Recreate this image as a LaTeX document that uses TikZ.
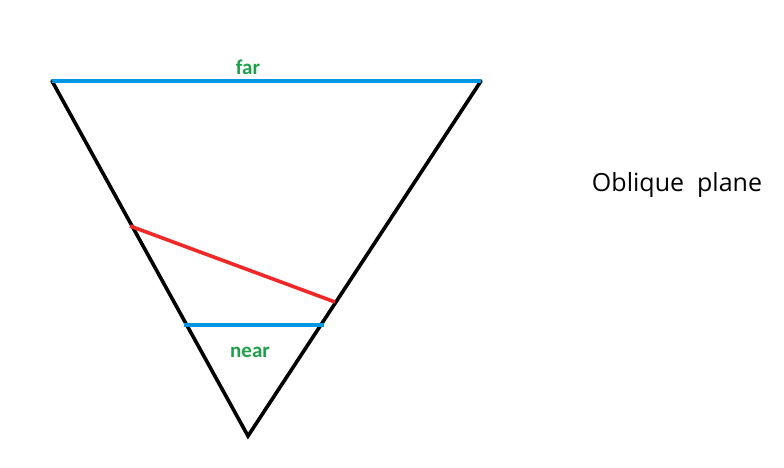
\documentclass[tikz,border=0pt]{standalone}
\usepackage{fontspec}
\setmainfont{Carlito}
\newfontfamily\labelfont{Open Sans}
\usetikzlibrary{positioning}
\definecolor{PlaneBlue}{RGB}{0,150,225}
\definecolor{LabelGreen}{RGB}{30,160,75}
\definecolor{CutRed}{RGB}{240,40,40}
\tikzset{
  edge/.style   = {black, line width=3.6pt, line cap=round},
  plane/.style  = {PlaneBlue, line width=4pt},
  cut/.style    = {CutRed, line width=3.6pt},
  tag/.style    = {font=\fontsize{21}{24}\selectfont\bfseries, text=LabelGreen, inner sep=0pt}
}

\begin{document}
\begin{tikzpicture}[x=1pt, y=-1pt]
\useasboundingbox (0,0) rectangle (784,468);

% frustum corners
\coordinate (tl) at (52,81);
\coordinate (tr) at (481,81);
\coordinate (apex) at (248,436);
\coordinate (nl) at (184,325);
\coordinate (nr) at (324,325);
\coordinate (ol) at (130,226);
\coordinate (or) at (335,302);

% sides
\draw[edge] (tl) -- (apex) -- (tr);

% far and near planes
\draw[plane] (tl) -- (tr);
\draw[plane] (nl) -- (nr);

% oblique cut
\draw[cut] (ol) -- (or);

% labels
\node[tag] (far) at (248,67) {far};
\node[tag] (near) at (250,352) {near};
\node[font=\labelfont\fontsize{25}{28}\selectfont, inner sep=0pt] (oblique) at (677,185) {Oblique\ \ plane};
\end{tikzpicture}
\end{document}
